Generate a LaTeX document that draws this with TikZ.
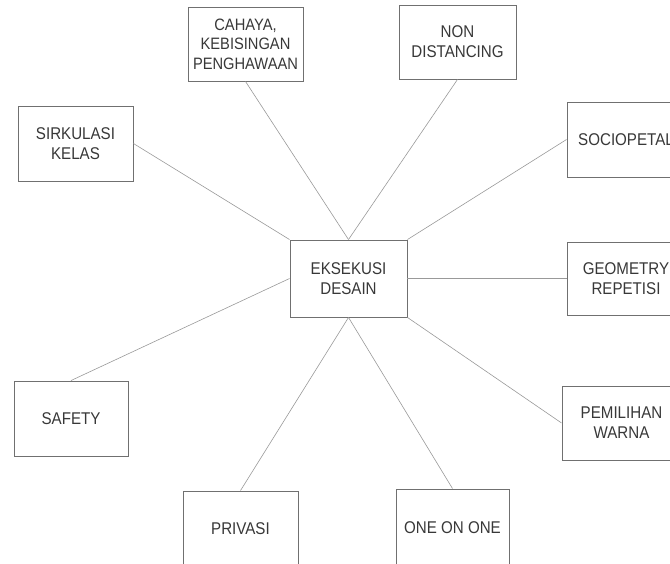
\documentclass[tikz,border=0pt]{standalone}
\usepackage{fontspec}
\newfontfamily\labfont{Liberation Sans}[FakeStretch=0.89]
\definecolor{txt}{HTML}{383838}
\definecolor{edge}{HTML}{707070}
\definecolor{conn}{HTML}{999999}
\begin{document}
\begin{tikzpicture}[x=1pt,y=-1pt,
  box/.style={draw=edge,line width=0.9pt,fill=white,inner sep=0pt,align=center,
    text=txt,font=\labfont\fontsize{17}{20}\selectfont},
  link/.style={draw=conn,line width=0.6pt}]
\useasboundingbox (0,0) rectangle (670,564);
\clip (0,0) rectangle (670,564);
\node[box,minimum width=115pt,minimum height=74pt,font=\labfont\fontsize{16.5}{19.5}\selectfont] (cah) at (245.5,44) {CAHAYA,\\KEBISINGAN\\PENGHAWAAN};
\node[box,minimum width=117pt,minimum height=74pt] (non) at (457.5,42) {NON\\DISTANCING};
\node[box,minimum width=115pt,minimum height=75pt] (sir) at (75.5,143.5) {SIRKULASI\\KELAS};
\node[box,minimum width=118pt,minimum height=75pt] (soc) at (626,139.5) {SOCIOPETAL};
\node[box,minimum width=117pt,minimum height=77pt] (eks) at (348.5,278.5) {EKSEKUSI\\DESAIN};
\node[box,minimum width=118pt,minimum height=73pt] (geo) at (626,278.5) {GEOMETRY\\REPETISI};
\node[box,minimum width=114pt,minimum height=75pt] (saf) at (71,418.5) {SAFETY};
\node[box,minimum width=119pt,minimum height=74pt] (pem) at (621.5,423) {PEMILIHAN\\WARNA};
\node[box,minimum width=115pt,minimum height=75pt] (pri) at (240.5,528.5) {PRIVASI};
\node[box,minimum width=113pt,minimum height=77pt] (one) at (452.5,527.5) {ONE ON ONE};
\draw[link] (eks.north) -- (cah.south);
\draw[link] (eks.north) -- (non.south);
\draw[link] (eks.north west) -- (sir.east);
\draw[link] (eks.north east) -- (soc.west);
\draw[link] (eks.east) -- (geo.west);
\draw[link] (eks.west) -- (saf.north);
\draw[link] (eks.south east) -- (pem.west);
\draw[link] (eks.south) -- (pri.north);
\draw[link] (eks.south) -- (one.north);
\end{tikzpicture}
\end{document}
